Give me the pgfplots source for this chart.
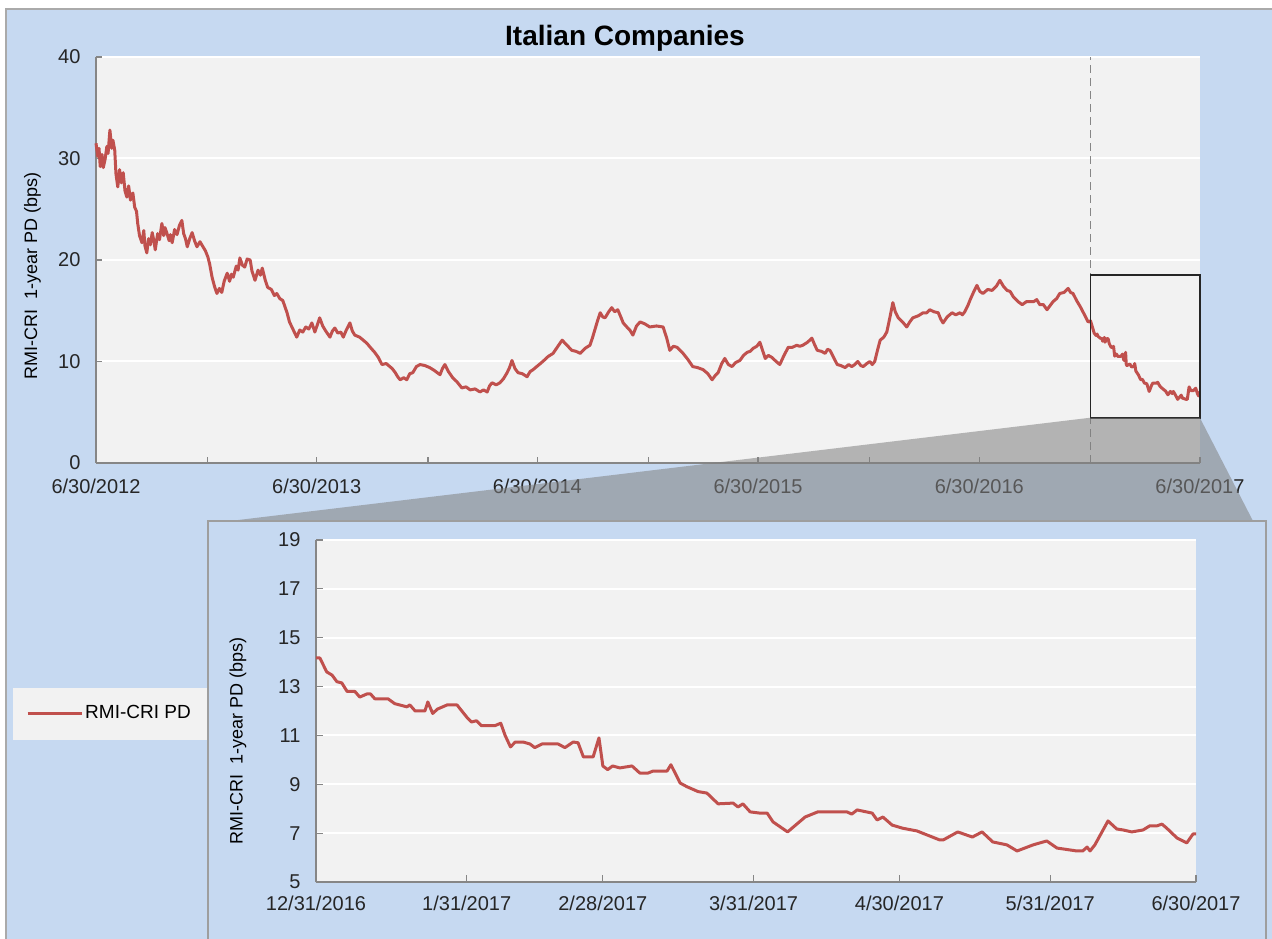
\documentclass[border=0pt]{standalone}
\usepackage{pgfplots}
\usepackage{pgfplotstable}
\pgfplotsset{compat=1.18}
\usepackage{fontspec}
\setmainfont{Liberation Sans}
\definecolor{bgblue}{HTML}{C6D9F1}
\definecolor{plotbg}{HTML}{F2F2F2}
\definecolor{series}{HTML}{C0504D}
\definecolor{axgray}{HTML}{868686}

% days since 6/30/2012
\pgfplotstableread{
d v
0 31.5
3 30.2
5 31.0
7 29.2
10 30.4
12 29.1
15 29.9
18 31.2
20 30.5
23 32.8
26 31.0
28 31.8
31 30.8
33 28.5
36 27.2
39 28.9
42 27.6
45 28.6
48 26.8
51 26.2
54 27.3
57 25.9
61 26.6
64 25.2
67 24.8
69 23.6
72 22.4
76 21.7
79 22.9
81 21.4
84 20.7
87 22.1
90 21.5
93 22.7
96 21.8
98 21.0
102 22.6
105 22.0
109 23.6
112 22.4
114 23.2
117 22.7
121 21.9
123 22.5
126 21.7
130 23.0
134 22.5
138 23.4
142 23.9
145 22.6
148 22.1
151 21.3
155 22.1
159 22.7
163 21.9
167 21.3
172 21.8
177 21.3
181 20.9
185 20.3
188 19.6
192 18.3
196 17.4
200 16.7
204 17.2
208 16.8
212 17.9
217 18.7
221 17.9
224 18.6
227 18.3
232 19.4
235 19.0
238 20.2
242 19.5
246 19.3
250 20.1
255 20.0
258 18.9
263 18.0
268 19.0
272 18.5
275 19.2
280 18.0
284 17.3
290 17.1
295 16.5
299 16.7
304 16.2
309 16.0
316 14.8
320 13.9
324 13.4
328 12.9
332 12.4
337 13.1
342 12.9
347 13.4
352 13.2
357 13.8
362 12.9
366 13.6
370 14.3
375 13.5
380 13.0
387 12.4
391 13.0
395 13.3
400 12.8
405 12.9
409 12.4
414 13.1
420 13.8
424 13.0
428 12.6
436 12.4
442 12.1
448 11.8
455 11.3
461 10.9
467 10.4
473 9.7
480 9.8
486 9.5
490 9.3
495 8.9
499 8.5
503 8.2
509 8.4
514 8.2
519 8.8
524 8.9
530 9.5
536 9.7
544 9.6
552 9.4
560 9.1
569 8.7
573 9.3
577 9.7
583 9.0
590 8.4
597 8.0
605 7.4
612 7.5
619 7.2
627 7.3
635 7.0
641 7.2
647 7.0
651 7.6
655 7.9
662 7.7
668 7.9
674 8.3
680 8.9
684 9.4
688 10.1
693 9.3
698 8.9
705 8.8
713 8.5
718 9.0
723 9.2
731 9.6
739 10.0
748 10.5
756 10.8
764 11.5
771 12.1
779 11.6
787 11.1
794 11.0
801 10.8
809 11.3
817 11.6
821 12.3
825 13.1
830 14.1
834 14.8
838 14.4
842 14.3
848 14.9
853 15.3
858 14.9
863 15.1
868 14.4
872 13.8
878 13.4
883 13.1
888 12.6
894 13.5
900 13.9
908 13.7
916 13.4
927 13.5
938 13.4
944 12.3
949 11.1
955 11.5
961 11.4
966 11.1
971 10.8
979 10.2
987 9.5
995 9.4
1004 9.2
1012 8.8
1019 8.2
1024 8.6
1029 8.9
1035 9.8
1040 10.3
1046 9.7
1052 9.5
1058 9.9
1065 10.1
1071 10.6
1077 10.9
1082 11.0
1087 11.3
1093 11.5
1098 11.9
1103 11.0
1107 10.3
1112 10.6
1118 10.4
1125 10.0
1131 9.7
1138 10.6
1145 11.4
1152 11.4
1159 11.6
1164 11.5
1169 11.6
1177 11.9
1184 12.3
1189 11.6
1193 11.1
1200 11.0
1206 10.8
1210 11.2
1214 11.1
1220 10.4
1226 9.7
1232 9.6
1239 9.4
1245 9.7
1250 9.5
1255 9.7
1260 10.0
1265 9.6
1269 9.5
1275 9.8
1280 10.0
1284 9.7
1288 10.0
1293 11.2
1297 12.1
1303 12.4
1308 12.9
1313 14.3
1318 15.8
1322 14.9
1327 14.3
1334 13.9
1341 13.4
1346 13.9
1351 14.3
1360 14.5
1368 14.8
1374 14.8
1379 15.1
1386 14.9
1393 14.8
1397 14.2
1401 13.8
1408 14.4
1416 14.8
1422 14.6
1429 14.8
1433 14.6
1437 14.9
1442 15.5
1446 16.1
1452 16.9
1457 17.5
1462 16.9
1467 16.7
1475 17.1
1482 17.0
1489 17.4
1495 18.0
1501 17.4
1507 17.0
1512 16.9
1517 16.4
1525 15.9
1532 15.6
1539 15.9
1545 15.9
1551 15.9
1556 16.1
1561 15.6
1567 15.6
1573 15.1
1578 15.5
1583 15.9
1589 16.2
1594 16.7
1601 16.8
1608 17.2
1612 16.8
1616 16.7
1622 16.0
1628 15.4
1635 14.6
1641 13.9
1645 14.0
1647 13.6
1649 13.2
1651 12.8
1654 12.57
1656 12.7
1657 12.5
1661 12.3
1664 12.25
1665 12.0
1668 12.37
1669 11.9
1672 12.25
1674 12.25
1676 11.75
1679 11.4
1682 11.4
1683 11.5
1685 10.53
1688 10.73
1690 10.5
1695 10.5
1698 10.73
1700 10.12
1702 10.12
1703 10.9
1704 9.75
1705 9.6
1710 9.75
1713 9.46
1717 9.54
1718 9.8
1720 9.05
1724 8.7
1728 8.2
1731 8.23
1734 7.87
1738 7.82
1742 7.05
1746 7.66
1748 7.87
1754 7.87
1756 7.95
1760 7.54
1764 7.33
1769 7.09
1773 6.72
1777 7.05
1780 6.84
1782 7.05
1787 6.52
1789 6.27
1795 6.68
1797 6.39
1803 6.27
1805 6.27
1808 7.5
1811 7.13
1815 7.13
1819 7.37
1822 6.8
1824 6.6
1825 6.97
1826 6.97
}\maintable

% days since 12/31/2016
\pgfplotstableread{
d v
0 14.17
0.8 14.17
2.2 13.6
3.3 13.47
4.3 13.2
5.3 13.15
6.4 12.8
8 12.8
9 12.57
10.5 12.7
11.2 12.7
12.1 12.5
14.8 12.5
16.2 12.3
18.7 12.17
19.3 12.25
20.4 12.0
22.4 12.0
23 12.37
24 11.9
25 12.08
27 12.25
29 12.25
31 11.75
32 11.55
33 11.6
34 11.4
36.8 11.4
38 11.5
38.9 11.0
40 10.53
41 10.73
42.6 10.73
44 10.65
45 10.5
46.5 10.65
49.8 10.65
51.2 10.5
52.9 10.73
53.9 10.7
55 10.12
57 10.12
58.2 10.9
59 9.75
60 9.6
61 9.75
62.5 9.67
65 9.75
66.6 9.46
68.3 9.46
69.3 9.54
72.2 9.54
73 9.8
74.9 9.05
76.3 8.9
78.6 8.7
80.4 8.64
82.7 8.2
85.8 8.23
86.8 8.07
87.8 8.2
89.3 7.87
91.3 7.82
92.8 7.82
94 7.46
97 7.05
100.6 7.66
103.2 7.87
109.2 7.87
110.2 7.78
111.3 7.95
114.4 7.82
115.4 7.54
116.6 7.66
118.5 7.33
120.7 7.2
123.6 7.09
128.3 6.72
129 6.72
132 7.05
135 6.84
137 7.05
139.2 6.64
142.1 6.52
144.2 6.27
147.5 6.52
150.3 6.68
152.4 6.39
156.5 6.27
157.7 6.27
158.6 6.43
159.2 6.27
160.2 6.52
162.9 7.5
164.7 7.17
166 7.13
167.8 7.05
170.1 7.13
171.5 7.3
173 7.3
174 7.37
175 7.2
177.1 6.8
179.1 6.6
180.4 6.97
181 6.97
}\insettable

\begin{document}
\begin{tikzpicture}[x=1pt,y=1pt]
\fill[white] (0,0) rectangle (1272,938);
\filldraw[fill=bgblue, draw=axgray!70, line width=1.2pt] (6,-5) rectangle (1280,929);
\node[font=\fontsize{28}{28}\selectfont\bfseries, text=black] at (625,900) {Italian Companies};

\begin{axis}[
  at={(96pt,475pt)}, anchor=south west,
  scale only axis, width=1104pt, height=406pt,
  xmin=0, xmax=1826, ymin=0, ymax=40,
  axis x line*=bottom, axis y line*=left,
  axis line style={axgray, line width=1.5pt},
  axis background/.style={fill=plotbg},
  xtick={0,184,365,549,730,914,1095,1279,1461,1645,1826},
  xticklabels={6/30/2012,,6/30/2013,,6/30/2014,,6/30/2015,,6/30/2016,,6/30/2017},
  ytick={0,10,20,30,40},
  /pgf/number format/assume math mode=true,
  ymajorgrids, major grid style={white, line width=2pt},
  tick align=inside,
  tick style={axgray, line width=1.2pt}, major tick length=6pt,
  ticklabel style={font=\fontsize{20}{20}\selectfont, text=black!85},
  xticklabel style={yshift=-12pt},
  yticklabel style={xshift=-12pt},
  ylabel={RMI-CRI\ \ 1-year PD (bps)},
  ylabel style={font=\fontsize{18}{18}\selectfont, at={(axis description cs:-0.0575,0.46)}, anchor=center},
  clip=false,
]
\addplot[series, line width=3pt, line join=round] table[x=d,y=v] {\maintable};
\draw[axgray, line width=1.2pt, dash pattern=on 8pt off 5pt] (axis cs:1645,0) -- (axis cs:1645,40);
\draw[black!85, line width=1.5pt] (axis cs:1645,4.45) rectangle (axis cs:1826,18.5);
\end{axis}

\fill[gray, opacity=0.55] (1088,520) -- (1200,520) -- (1253,417) -- (230,417) -- cycle;
\fill[plotbg] (13,198) rectangle (208,250);
\filldraw[fill=bgblue, draw=axgray!80, line width=1.2pt] (208,-5) rectangle (1266,417);

\begin{axis}[
  at={(316pt,56pt)}, anchor=south west,
  scale only axis, width=880pt, height=342pt,
  xmin=0, xmax=181, ymin=5, ymax=19,
  axis x line*=bottom, axis y line*=left,
  axis line style={axgray, line width=1.5pt},
  axis background/.style={fill=plotbg},
  xtick={0,31,59,90,120,151,181},
  xticklabels={12/31/2016,1/31/2017,2/28/2017,3/31/2017,4/30/2017,5/31/2017,6/30/2017},
  ytick={5,7,9,11,13,15,17,19},
  /pgf/number format/assume math mode=true,
  ymajorgrids, major grid style={white, line width=2pt},
  tick align=inside,
  tick style={axgray, line width=1.2pt}, major tick length=7pt,
  ticklabel style={font=\fontsize{20}{20}\selectfont, text=black!85},
  xticklabel style={yshift=-10pt},
  yticklabel style={xshift=-12pt},
  ylabel={RMI-CRI\ \ 1-year PD (bps)},
  ylabel style={font=\fontsize{18}{18}\selectfont, at={(axis description cs:-0.0886,0.412)}, anchor=center},
  legend style={at={(axis description cs:-0.3295,0.494)}, anchor=west, draw=none, fill=none, inner sep=0pt,
    font=\fontsize{19}{19}\selectfont},
  legend image code/.code={\draw[#1, line width=3pt] (0pt,0pt) -- (54pt,0pt);},
  clip=false,
]
\addplot[series, line width=3pt, line join=round] table[x=d,y=v] {\insettable};
\addlegendentry{RMI-CRI PD}
\end{axis}

\pgfresetboundingbox
\path[use as bounding box] (0,0) rectangle (1272,938);
\end{tikzpicture}
\end{document}
